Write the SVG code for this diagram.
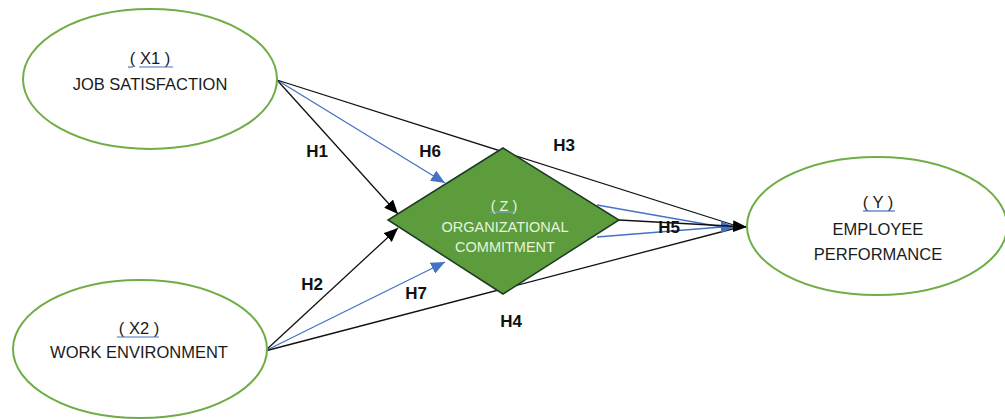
<svg xmlns="http://www.w3.org/2000/svg" width="1005" height="419" viewBox="0 0 1005 419">
<style>
.ell{fill:#fff;stroke:#70ad47;stroke-width:2}
.t{font-family:"Liberation Sans",Arial,sans-serif;font-size:16.5px;fill:#1a1a1a;text-anchor:middle}
.zt{font-family:"Liberation Sans",Arial,sans-serif;font-size:14.5px;fill:#e6f4dc;text-anchor:middle}
.h{font-family:"Liberation Sans",Arial,sans-serif;font-size:17px;font-weight:bold;fill:#111;text-anchor:middle}
.k{fill:none;stroke:#111;stroke-width:1.3}
.b{fill:none;stroke:#4472c4;stroke-width:1.3}
.ul{stroke:#4472c4;stroke-width:1.2}
</style>
<defs>
<marker id="ak" markerUnits="userSpaceOnUse" viewBox="0 0 14 12" refX="14" refY="6" markerWidth="14" markerHeight="12" orient="auto"><path d="M0,0 L14,6 L0,12 Z" fill="#000"/></marker>
<marker id="ab" markerUnits="userSpaceOnUse" viewBox="0 0 14 12" refX="14" refY="6" markerWidth="14" markerHeight="12" orient="auto"><path d="M0,0 L14,6 L0,12 Z" fill="#4472c4"/></marker>
</defs>
<rect width="1005" height="419" fill="#fff"/>
<g id="connectors">
<path class="k" d="M277,80 L398,214" marker-end="url(#ak)"/>
<path class="b" d="M277,80 L445,183" marker-end="url(#ab)"/>
<path class="k" d="M277,80 L740,227"/>
<path class="k" d="M265,351 L398,228" marker-end="url(#ak)"/>
<path class="b" d="M265,351 L445,262" marker-end="url(#ab)"/>
<path class="k" d="M265,351 L740,227"/>
<path class="b" d="M597,237 L722,227"/>
<path class="b" d="M597,205 L722,227 L735,227" marker-end="url(#ab)"/>
<path class="k" d="M619,220 L747,227" marker-end="url(#ak)"/>
</g>
<g id="x1">
<ellipse class="ell" cx="150" cy="79" rx="127" ry="70"/>
<text class="t" x="150" y="64">( X1 )</text>
<line class="ul" x1="128" y1="67" x2="133" y2="67"/>
<line class="ul" x1="139" y1="67" x2="173" y2="67"/>
<text class="t" x="150" y="90">JOB SATISFACTION</text>
</g>
<g id="x2">
<ellipse class="ell" cx="140" cy="349" rx="127" ry="69"/>
<text class="t" x="139" y="334">( X2 )</text>
<line class="ul" x1="117" y1="337" x2="159" y2="337"/>
<text class="t" x="139" y="358">WORK ENVIRONMENT</text>
</g>
<g id="y">
<ellipse class="ell" cx="877" cy="226" rx="130" ry="69"/>
<text class="t" x="878" y="208">( Y )</text>
<line class="ul" x1="863" y1="211" x2="895" y2="211"/>
<text class="t" x="878" y="235">EMPLOYEE</text>
<text class="t" x="878" y="260">PERFORMANCE</text>
</g>
<g id="z">
<polygon points="503,148 619,220 503,294 388,220" fill="#5c9c3c" stroke="#1e3a24" stroke-width="1.5"/>
<text class="zt" x="504" y="211">( Z )</text>
<line x1="490" y1="212" x2="515" y2="212" stroke="#7fa6e0" stroke-width="1"/>
<text class="zt" x="505" y="232">ORGANIZATIONAL</text>
<text class="zt" x="505" y="252">COMMITMENT</text>
</g>
<g id="labels">
<text class="h" x="317" y="157">H1</text>
<text class="h" x="430" y="157">H6</text>
<text class="h" x="564" y="151">H3</text>
<text class="h" x="312" y="290">H2</text>
<text class="h" x="416" y="299">H7</text>
<text class="h" x="511" y="327">H4</text>
<text class="h" x="669" y="233">H5</text>
</g>
</svg>
